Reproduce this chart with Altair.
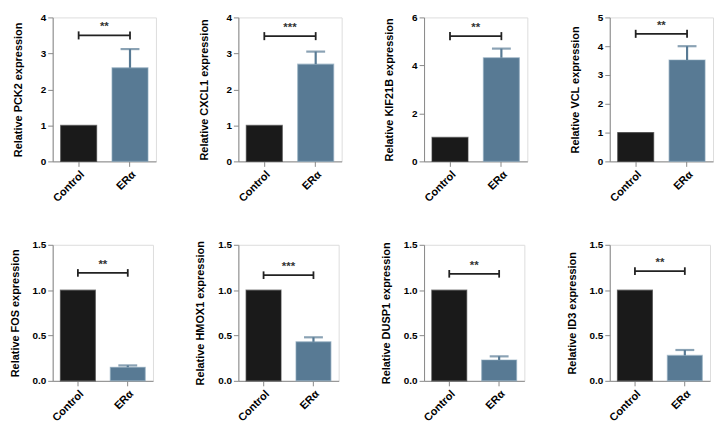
import altair as alt
import pandas as pd

genes = ["PCK2", "CXCL1", "KIF21B", "VCL", "FOS", "HMOX1", "DUSP1", "ID3"]
groups = ["Control", "ERα"]
control_values = [1, 1, 1, 1, 1, 1, 1, 1]
era_values = [2.6, 2.7, 4.32, 3.52, 0.15, 0.43, 0.23, 0.28]
era_errors = [0.52, 0.35, 0.38, 0.48, 0.02, 0.05, 0.04, 0.06]
y_max = [4, 4, 6, 5, 1.5, 1.5, 1.5, 1.5]
y_ticks = [
    [0, 1, 2, 3, 4],
    [0, 1, 2, 3, 4],
    [0, 2, 4, 6],
    [0, 1, 2, 3, 4, 5],
    [0, 0.5, 1.0, 1.5],
    [0, 0.5, 1.0, 1.5],
    [0, 0.5, 1.0, 1.5],
    [0, 0.5, 1.0, 1.5],
]
y_formats = ["d", "d", "d", "d", ".1f", ".1f", ".1f", ".1f"]
bracket_levels = [3.5, 3.48, 5.22, 4.43, 1.19, 1.165, 1.18, 1.21]
stars = ["**", "***", "**", "**", "**", "***", "**", "**"]

FONT = "Liberation Sans"
BAR_COLORS = ["#1a1a1a", "#587a94"]
EDGE_COLORS = ["#333333", "#8aa6bb"]
PAD_INNER = 0.3
PAD_OUTER = 0.155


def panel(i, w, h, title_pad):
    gene = genes[i]
    ym = y_max[i]
    df = pd.DataFrame({
        "group": groups,
        "value": [control_values[i], era_values[i]],
        "err": [0, era_errors[i]],
    })
    df["top"] = df["value"] + df["err"]
    err_df = df[df["err"] > 0]
    lvl = bracket_levels[i]
    tick_half = ym * 0.028
    br_df = pd.DataFrame({"group": groups, "y": [lvl, lvl],
                          "y1": [lvl - tick_half] * 2, "y2": [lvl + tick_half] * 2})
    star_df = pd.DataFrame({"group": [groups[0]], "y": [lvl], "label": [stars[i]]})

    xscale = alt.Scale(domain=groups, paddingInner=PAD_INNER, paddingOuter=PAD_OUTER)
    xaxis = alt.Axis(title=None, labelAngle=-45, labelAlign="right",
                     labelBaseline="top", labelPadding=2, labelFontWeight="bold",
                     labelFontSize=11)
    yscale = alt.Scale(domain=[0, ym], nice=False, zero=True)
    yaxis = alt.Axis(values=y_ticks[i], format=y_formats[i], grid=False,
                     title=f"Relative {gene} expression", titlePadding=title_pad,
                     labelOverlap=False, labelFontWeight="bold")

    def X(**kw):
        return alt.X("group:N", sort=groups, scale=xscale, axis=xaxis, **kw)

    def Y(field):
        return alt.Y(field, scale=yscale, axis=yaxis)

    color = alt.Color("group:N", scale=alt.Scale(domain=groups, range=BAR_COLORS), legend=None)

    bars = alt.Chart(df).mark_bar(strokeWidth=1.2, strokeOpacity=0.6).encode(
        x=X(), y=Y("value:Q"), color=color,
        stroke=alt.Stroke("group:N", scale=alt.Scale(domain=groups, range=EDGE_COLORS), legend=None),
    )
    err_line = alt.Chart(err_df).mark_rule(strokeWidth=2.2).encode(
        x=X(), y=Y("value:Q"), y2="top:Q", color=color)
    err_cap = alt.Chart(err_df).mark_tick(size=19, thickness=2.2).encode(
        x=X(), y=Y("top:Q"), color=color)
    br_line = alt.Chart(br_df).mark_line(color="#222222", strokeWidth=1.8).encode(
        x=X(), y=Y("y:Q"))
    br_ends = alt.Chart(br_df).mark_rule(color="#222222", strokeWidth=1.8).encode(
        x=X(), y=Y("y1:Q"), y2="y2:Q")
    # centred between the two bars: end of first band + half the inner gap
    step = w / (2 - PAD_INNER + 2 * PAD_OUTER)
    star = alt.Chart(star_df).mark_text(font=FONT, fontWeight="bold", fontSize=11.5,
                                        color="#333333", baseline="middle", dy=-8,
                                        dx=step * PAD_INNER / 2).encode(
        x=X(bandPosition=1), y=Y("y:Q"), text="label:N")
    return alt.layer(bars, err_line, err_cap, br_line, br_ends, star).properties(width=w, height=h)


row1 = alt.hconcat(*[panel(i, 104, 145, 17) for i in range(4)], spacing=40)
row2 = alt.hconcat(*[panel(i, 101, 137, 12) for i in range(4, 8)], spacing=40)
chart = alt.vconcat(row1, row2, spacing=35).properties(
    padding={"left": 0, "top": 2, "right": 0, "bottom": 0}
).configure_view(stroke=None).configure_axis(
    domainColor="#111111", domainWidth=1.6, tickColor="#111111", tickWidth=1.6, tickSize=5,
    labelFont=FONT, labelFontWeight="bold", labelFontSize=10, labelColor="#333333",
    titleFont=FONT, titleFontWeight="bold", titleFontSize=11.5, titleColor="#333333",
    grid=False,
).configure(background="white")

chart.save("out.html", embed_options={"renderer": "svg", "actions": False})
